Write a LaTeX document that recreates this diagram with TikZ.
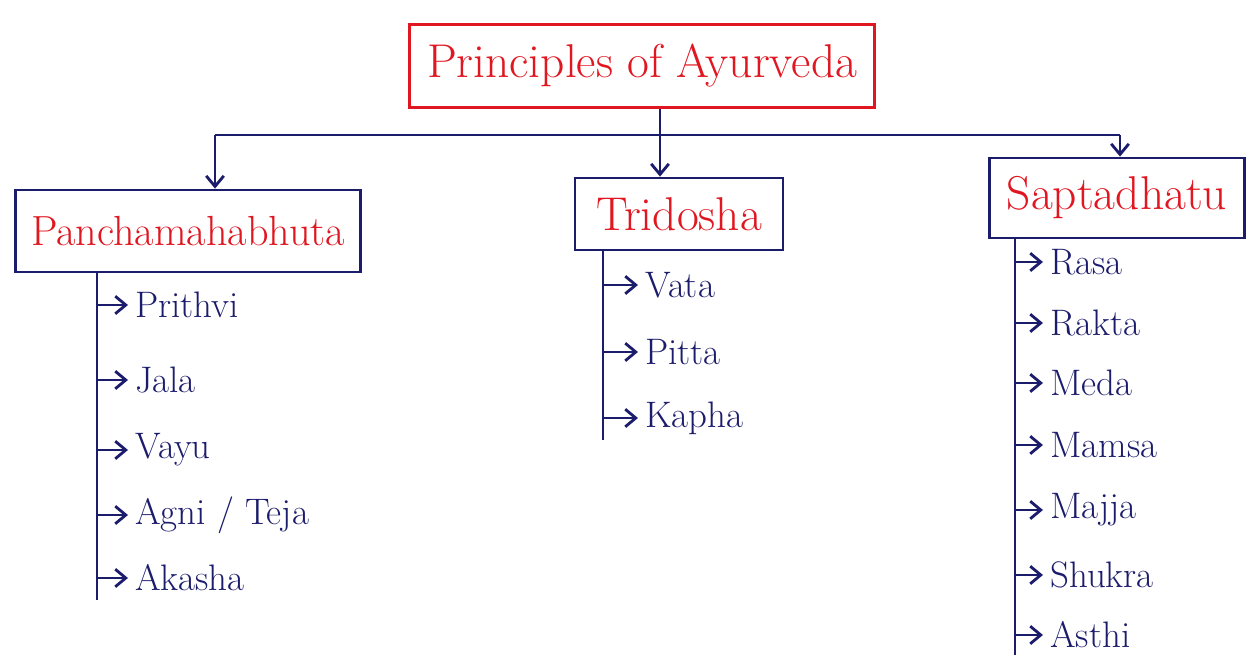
\documentclass[tikz,border=0pt]{standalone}
\usepackage{tikz}
\usetikzlibrary{positioning,arrows.meta}
\definecolor{inkblue}{RGB}{28,28,108}
\definecolor{inkred}{RGB}{224,22,32}
\tikzset{
  headbox/.style={draw=inkblue, text=inkred, line width=1.6pt, font=\fontsize{24}{28}\selectfont, inner sep=0pt},
  leaf/.style={anchor=west, text=inkblue, font=\fontsize{21}{25}\selectfont, inner sep=0pt},
  link/.style={draw=inkblue, line width=1.6pt},
}

\begin{document}
\begin{tikzpicture}[x=0.02cm,y=-0.02cm,>={Straight Barb[length=6pt,width=10pt]}]
  \useasboundingbox (0,0) rectangle (1252,660);
  % headings
  \node[headbox, draw=inkred, minimum width=9.3cm, minimum height=1.66cm, font=\fontsize{27}{31}\selectfont] (title) at (642,66) {Principles of Ayurveda};
  \node[headbox, minimum width=6.9cm, minimum height=1.64cm] (pan) at (188,231) {Panchamahabhuta};
  \node[headbox, minimum width=4.16cm, minimum height=1.44cm, font=\fontsize{27}{31}\selectfont] (tri) at (679,214) {Tridosha};
  \node[headbox, minimum width=5.1cm, minimum height=1.6cm, font=\fontsize{27}{31}\selectfont] (sap) at (1117,198) {Saptadhatu};
  % branching
  \coordinate (j) at (660,135); \coordinate (jl) at (215,135); \coordinate (jr) at (1120,135);
  \draw[link] (title.south -| j) -- (j);
  \draw[link] (jl) -- (jr);
  \draw[link,->] (j) -- (j |- tri.north);
  \draw[link,->] (jl) -- (jl |- pan.north);
  \draw[link,->] (jr) -- (jr |- sap.north);
  % lists
  \coordinate (ptop) at (97,272); \coordinate (pbot) at (97,600);
  \coordinate (ttop) at (603,250); \coordinate (tbot) at (603,440);
  \coordinate (stop) at (1015,238); \coordinate (sbot) at (1015,655);
  \draw[link] (ptop) -- (pbot);
  \draw[link] (ttop) -- (tbot);
  \draw[link] (stop) -- (sbot);
  \foreach \y/\n/\t in {305/p1/Prithvi, 380/p2/Jala, 450/p3/Vayu, 515/p4/Agni \slash{} Teja, 578/p5/Akasha}{
    \node[leaf] (\n) at (135,\y) {\t};
    \draw[link,->,shorten >=4pt] (ptop |- \n.west) -- (\n.west);
  }
  \foreach \y/\n/\t in {285/t1/Vata, 352/t2/Pitta, 418/t3/Kapha}{
    \node[leaf] (\n) at (645,\y) {\t};
    \draw[link,->,shorten >=4pt] (ttop |- \n.west) -- (\n.west);
  }
  \foreach \y/\n/\t in {262/s1/Rasa, 323/s2/Rakta, 383/s3/Meda, 445/s4/Mamsa, 510/s5/Majja, 575/s6/Shukra, 635/s7/Asthi}{
    \node[leaf] (\n) at (1050,\y) {\t};
    \draw[link,->,shorten >=4pt] (stop |- \n.west) -- (\n.west);
  }
\end{tikzpicture}
\end{document}
